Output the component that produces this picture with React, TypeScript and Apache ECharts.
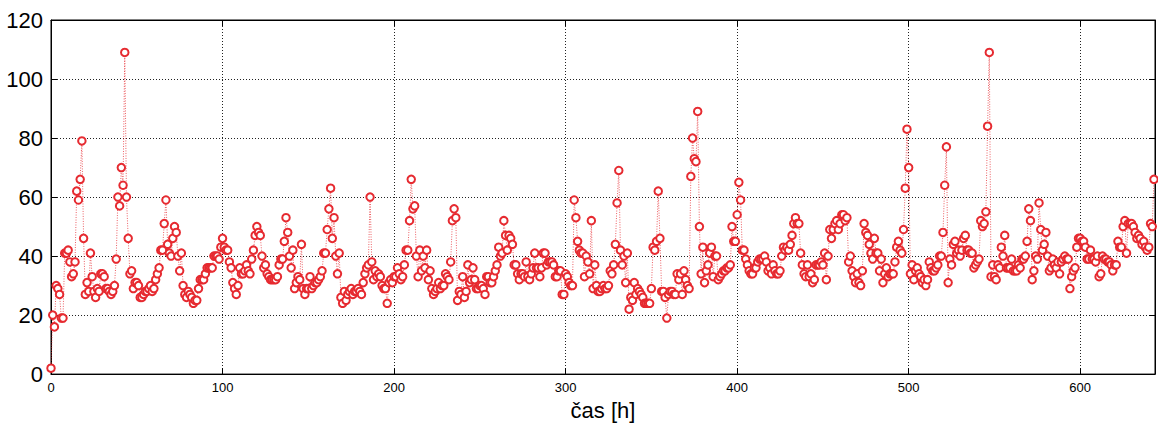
import React, { useEffect, useRef } from 'react';
import * as echarts from 'echarts';

// hourly measured values, index = hour
const values: number[] = [
  2, 20, 16, 30, 29, 27, 19, 19, 41, 41,
  42, 38, 33, 34, 38, 62, 59, 66, 79, 46,
  27, 31, 28, 41, 33, 28, 26, 29, 28, 34,
  34, 33, 29, 29, 28, 27, 28, 30, 39, 60,
  57, 70, 64, 109, 60, 46, 34, 35, 29, 31,
  31, 30, 26, 26, 27, 28, 28, 29, 30, 28,
  29, 32, 34, 36, 42, 42, 51, 59, 44, 41,
  40, 46, 50, 48, 40, 35, 41, 30, 27, 26,
  28, 27, 26, 24, 25, 25, 29, 32, 32, 32,
  34, 36, 36, 36, 36, 40, 40, 40, 39, 43,
  46, 43, 42, 42, 38, 36, 31, 29, 27, 30,
  36, 34, 34, 35, 37, 35, 34, 39, 42, 47,
  50, 48, 47, 40, 36, 37, 34, 33, 32, 32,
  32, 32, 33, 37, 39, 39, 45, 53, 48, 40,
  36, 42, 29, 31, 33, 32, 44, 29, 27, 29,
  29, 33, 29, 30, 31, 31, 32, 33, 35, 41,
  41, 49, 56, 63, 46, 53, 40, 34, 41, 26,
  24, 28, 25, 27, 28, 29, 27, 28, 28, 29,
  28, 27, 31, 34, 36, 37, 60, 38, 32, 35,
  33, 34, 33, 30, 29, 29, 24, 31, 32, 31,
  33, 33, 36, 34, 32, 33, 37, 42, 42, 52,
  66, 56, 57, 40, 33, 42, 35, 40, 36, 42,
  32, 35, 29, 27, 28, 29, 31, 29, 30, 30,
  34, 33, 32, 38, 52, 56, 53, 25, 28, 27,
  33, 26, 28, 37, 31, 32, 36, 32, 29, 29,
  30, 30, 29, 27, 33, 33, 31, 31, 33, 35,
  37, 43, 40, 41, 52, 47, 42, 47, 46, 44,
  37, 37, 34, 32, 34, 34, 33, 38, 33, 32,
  34, 36, 41, 36, 36, 33, 36, 41, 41, 37,
  38, 38, 38, 37, 33, 33, 35, 35, 27, 27,
  34, 33, 31, 30, 30, 59, 53, 45, 42, 41,
  41, 33, 40, 38, 34, 52, 29, 37, 30, 28,
  28, 29, 30, 29, 29, 30, 35, 34, 37, 44,
  58, 69, 42, 37, 40, 31, 41, 22, 26, 25,
  31, 27, 29, 28, 27, 26, 24, 24, 24, 24,
  29, 43, 42, 45, 62, 46, 28, 28, 26, 19,
  27, 28, 28, 27, 27, 34, 32, 34, 27, 35,
  32, 30, 29, 67, 80, 73, 72, 89, 50, 34,
  43, 31, 35, 37, 41, 43, 33, 40, 40, 32,
  33, 34, 35, 35, 36, 36, 37, 50, 45, 45,
  54, 65, 59, 42, 42, 39, 37, 35, 34, 34,
  36, 36, 38, 39, 39, 39, 40, 38, 35, 36,
  34, 37, 35, 34, 34, 35, 40, 43, 42, 43,
  42, 44, 47, 51, 53, 51, 51, 41, 37, 34,
  33, 37, 33, 34, 31, 32, 37, 37, 37, 38,
  37, 41, 32, 40, 49, 46, 49, 51, 52, 49,
  51, 54, 54, 52, 53, 38, 40, 35, 33, 31,
  34, 31, 30, 35, 51, 48, 47, 44, 41, 39,
  46, 41, 41, 35, 39, 31, 34, 36, 33, 34,
  34, 34, 38, 43, 45, 42, 41, 49, 63, 83,
  70, 34, 37, 32, 35, 36, 34, 33, 31, 32,
  30, 32, 38, 36, 35, 35, 36, 37, 40, 40,
  48, 64, 77, 31, 39, 37, 44, 45, 41, 42,
  40, 42, 46, 47, 42, 42, 41, 41, 36, 37,
  38, 39, 52, 50, 51, 55, 84, 109, 33, 37,
  33, 32, 37, 36, 43, 40, 47, 36, 36, 36,
  39, 35, 35, 35, 37, 36, 39, 39, 40, 45,
  56, 52, 32, 35, 40, 39, 58, 49, 42, 44,
  48, 40, 35, 36, 39, 37, 36, 38, 34, 38,
  39, 40, 39, 39, 29, 33, 35, 36, 43, 46,
  46, 45, 45, 43, 39, 39, 42, 39, 39, 38,
  40, 33, 34, 40, 39, 39, 38, 38, 37, 35,
  37, 37, 45, 43, 43, 50, 52, 41, 51, 51,
  51, 50, 48, 46, 47, 46, 44, 45, 43, 42,
  43, 51, 50, 66,
];

const hours: number[] = values.map((_, i) => i);

const xTicks: number[] = [0, 100, 200, 300, 400, 500, 600];
const yTicks: number[] = [0, 20, 40, 60, 80, 100, 120];
const xName = 'čas [h]';

const RED = '#e62a30';
const FONT = '"Liberation Sans", Arial, Helvetica, sans-serif';

export default function App() {
  const ref = useRef<HTMLDivElement>(null);

  useEffect(() => {
    if (!ref.current) return;
    const chart = echarts.init(ref.current, null, { renderer: 'svg' });
    const xMax = 643.6;
    const xStep = xTicks[1] - xTicks[0];
    const yStep = yTicks[1] - yTicks[0];
    const gridLine = { show: true, lineStyle: { color: '#222', width: 1, type: [1, 2] as any } };
    const tick = { show: true, inside: true, length: 6, lineStyle: { color: '#000', width: 1 } };
    const line = { show: true, onZero: false, lineStyle: { color: '#000', width: 1 } };
    chart.setOption({
      animation: false,
      backgroundColor: '#fff',
      grid: {
        left: 51,
        top: 20,
        width: 1104,
        height: 359,
        show: true,
        borderColor: '#000',
        borderWidth: 1,
        backgroundColor: 'transparent',
      },
      xAxis: [
        {
          type: 'value',
          position: 'bottom',
          min: xTicks[0],
          max: xMax,
          interval: xStep,
          axisLine: line,
          axisTick: tick,
          splitLine: gridLine,
          axisLabel: {
            color: '#000',
            fontSize: 13,
            fontFamily: FONT,
            margin: 7,
            showMaxLabel: false,
            formatter: (v: number) => (xTicks.includes(v) ? String(v) : ''),
          },
          name: xName,
          nameLocation: 'middle',
          nameGap: 21,
          nameTextStyle: { color: '#000', fontSize: 22, fontFamily: FONT },
        },
        {
          type: 'value',
          position: 'top',
          min: xTicks[0],
          max: xMax,
          interval: xStep,
          axisLine: line,
          axisTick: tick,
          splitLine: { show: false },
          axisLabel: { show: false },
        },
      ],
      yAxis: [
        {
          type: 'value',
          position: 'left',
          min: yTicks[0],
          max: yTicks[yTicks.length - 1],
          interval: yStep,
          axisLine: line,
          axisTick: tick,
          splitLine: gridLine,
          axisLabel: {
            color: '#000',
            fontSize: 22,
            fontFamily: FONT,
            margin: 8,
          },
        },
        {
          type: 'value',
          position: 'right',
          min: yTicks[0],
          max: yTicks[yTicks.length - 1],
          interval: yStep,
          axisLine: line,
          axisTick: tick,
          splitLine: { show: false },
          axisLabel: { show: false },
        },
      ],
      series: [
        {
          type: 'line',
          xAxisIndex: 0,
          yAxisIndex: 0,
          data: hours.map((h, i) => [h, values[i]]),
          symbol: 'emptyCircle',
          symbolSize: 7.5,
          showSymbol: true,
          showAllSymbol: true,
          itemStyle: { color: RED, borderColor: RED, borderWidth: 2.5 },
          lineStyle: { color: RED, width: 1, type: [1, 1.5] as any, opacity: 0.75 },
          emphasis: { disabled: true },
          z: 3,
        },
      ],
    });
    return () => chart.dispose();
  }, []);

  return (
    <div
      ref={ref}
      style={{ position: 'fixed', left: 0, top: 0, width: 1158, height: 426, background: '#fff' }}
    />
  );
}
